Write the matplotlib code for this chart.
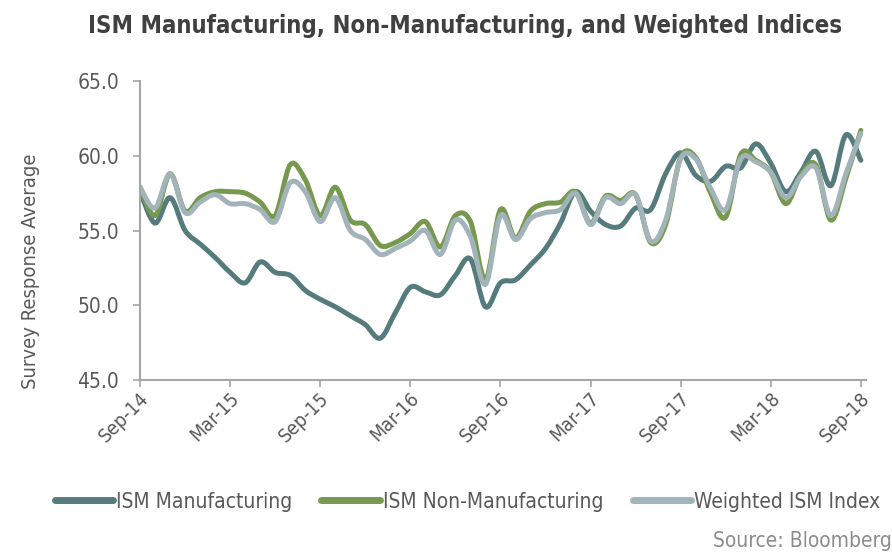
import matplotlib
matplotlib.use('Agg')
import matplotlib.pyplot as plt
import matplotlib.transforms as mtransforms
from matplotlib.path import Path
from matplotlib.patches import PathPatch
from matplotlib.lines import Line2D
import numpy as np

# 月度数据 Sep-14 .. Sep-18
ism_mfg = [57.6, 55.5, 57.2, 55.0, 54.1, 53.2, 52.2, 51.5, 52.9, 52.2,
           52.0, 51.0, 50.4, 49.9, 49.3, 48.7, 47.8, 49.5, 51.2, 50.9,
           50.7, 52.0, 53.1, 49.9, 51.5, 51.7, 52.7, 53.8, 55.5, 57.6,
           56.3, 55.4, 55.3, 56.5, 56.4, 58.8, 60.2, 58.7, 58.3, 59.3,
           59.2, 60.8, 59.5, 57.6, 58.9, 60.3, 58.0, 61.4, 59.7]
ism_non_mfg = [57.9, 56.0, 58.8, 56.3, 57.2, 57.6, 57.6, 57.5, 56.9, 56.0,
               59.4, 58.4, 56.0, 57.9, 55.7, 55.4, 54.0, 54.2, 54.8, 55.6,
               53.9, 56.0, 55.6, 51.7, 56.4, 54.5, 56.3, 56.8, 56.9, 57.6,
               55.5, 57.3, 57.0, 57.4, 54.2, 55.4, 59.9, 59.9, 57.5, 55.9,
               60.1, 59.7, 58.9, 56.8, 58.7, 59.4, 55.7, 58.5, 61.7]
ism_weighted = [57.9, 56.5, 58.8, 56.2, 56.9, 57.4, 56.8, 56.8, 56.4, 55.6,
                58.2, 57.6, 55.6, 57.2, 55.0, 54.4, 53.4, 53.8, 54.3, 55.0,
                53.4, 55.7, 54.6, 51.4, 56.0, 54.4, 55.8, 56.2, 56.4, 57.5,
                55.4, 57.2, 56.8, 57.4, 54.3, 55.7, 59.8, 59.8, 57.8, 56.4,
                59.8, 59.6, 58.9, 57.2, 58.6, 59.2, 56.0, 58.8, 61.5]
tick_labels = ['Sep-14', 'Mar-15', 'Sep-15', 'Mar-16', 'Sep-16',
               'Mar-17', 'Sep-17', 'Mar-18', 'Sep-18']
series_names = ['ISM Manufacturing', 'ISM Non-Manufacturing', 'Weighted ISM Index']
colors = ['#557b7d', '#76994f', '#a2b4b9']

FONT = dict(family='DejaVu Sans', stretch='condensed')
TXT = '#595959'


def smooth_path(x, y, t=1 / 6):
    """Excel风格的平滑曲线（Bezier）"""
    n = len(x)
    verts = [(x[0], y[0])]
    codes = [Path.MOVETO]
    for i in range(n - 1):
        x0, y0 = x[max(i - 1, 0)], y[max(i - 1, 0)]
        x1, y1 = x[i], y[i]
        x2, y2 = x[i + 1], y[i + 1]
        x3, y3 = x[min(i + 2, n - 1)], y[min(i + 2, n - 1)]
        verts += [(x1 + (x2 - x0) * t, y1 + (y2 - y0) * t),
                  (x2 - (x3 - x1) * t, y2 - (y3 - y1) * t),
                  (x2, y2)]
        codes += [Path.CURVE4] * 3
    return Path(verts, codes)


fig = plt.figure(figsize=(8.92, 5.52), dpi=100)
ax = fig.add_axes([0.157, 0.3116, 0.814, 0.5415])

x = np.arange(len(ism_mfg))
handles = []
for vals, name, c in zip([ism_mfg, ism_non_mfg, ism_weighted], series_names, colors):
    patch = PathPatch(smooth_path(x, vals), fill=False, edgecolor=c, lw=3.6,
                      capstyle='round', joinstyle='round')
    ax.add_patch(patch)
    handles.append(Line2D([], [], color=c, lw=5, solid_capstyle='round', label=name))

ax.set_xlim(0, 48.35)
ax.set_ylim(45, 65)
ax.set_yticks(np.arange(45, 65.1, 5))
ax.set_yticklabels([f'{v:.1f}' for v in np.arange(45, 65.1, 5)])
ax.set_xticks(x[::6])
ax.set_xticklabels(tick_labels, rotation=45, ha='right', va='center', rotation_mode='anchor')

for s in ['top', 'right']:
    ax.spines[s].set_visible(False)
for s in ['left', 'bottom']:
    ax.spines[s].set_color('#a6a6a6')
    ax.spines[s].set_linewidth(1.5)
ax.tick_params(axis='both', colors='#a6a6a6', width=1.2, length=5, labelcolor=TXT)
ax.tick_params(axis='y', labelsize=15, pad=10)
ax.tick_params(axis='x', labelsize=14, pad=6)

# x轴标签向右微移
shift = mtransforms.ScaledTranslation(6 / 100, 0, fig.dpi_scale_trans)
for lbl in ax.get_xticklabels():
    lbl.set_transform(lbl.get_transform() + shift)
for lbl in ax.get_xticklabels() + ax.get_yticklabels():
    lbl.set_family(FONT['family'])
    lbl.set_stretch(FONT['stretch'])

ax.set_ylabel('Survey Response Average', fontsize=14.5, color=TXT, **FONT)
ax.yaxis.set_label_coords(-0.138, 0.365)

fig.suptitle('ISM Manufacturing, Non-Manufacturing, and Weighted Indices',
             x=0.521, y=0.975, fontsize=17.2, fontweight='bold', color='#404040', **FONT)

fig.legend(handles=handles, loc='center', bbox_to_anchor=(0.524, 0.091), ncol=3,
           frameon=False, prop=dict(size=15, **FONT), labelcolor=TXT,
           handlelength=2.8, handletextpad=0.15, columnspacing=1.4)

fig.text(1.0, 0.002, 'Source: Bloomberg', ha='right', va='bottom',
         fontsize=15, color='#8c8c8c', **FONT)

plt.savefig('out.png', dpi=100)
